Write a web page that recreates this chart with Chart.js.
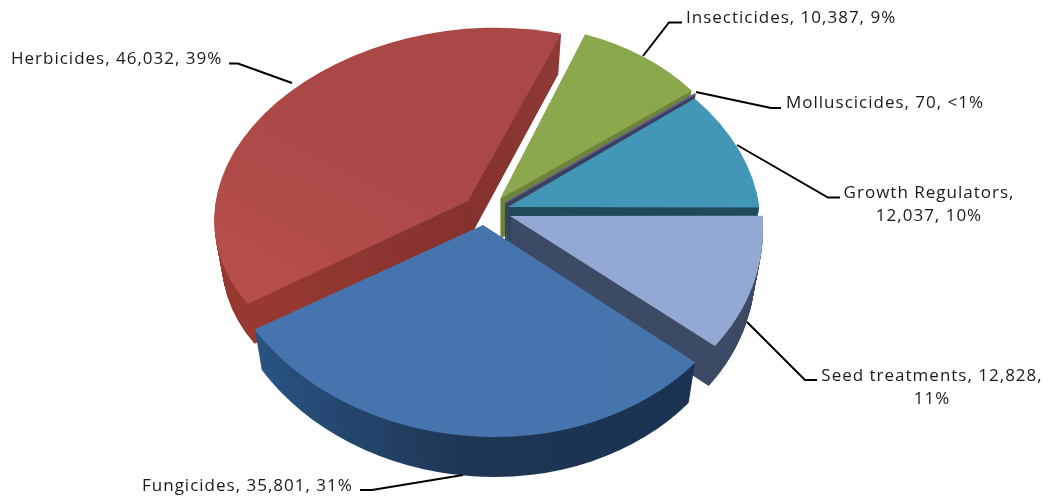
<!DOCTYPE html>
<html>
<head>
<meta charset="utf-8">
<style>
  html, body { margin: 0; padding: 0; background: #fff; }
  #chart { display: block; }
</style>
<script src="https://cdn.jsdelivr.net/npm/chart.js@4"></script>
</head>
<body>
<canvas id="chart" width="1060" height="501"></canvas>
<script>
// Data
const categories = ['Herbicides', 'Insecticides', 'Molluscicides', 'Growth Regulators', 'Seed treatments', 'Fungicides'];
const tonnes = [46032, 10387, 70, 12037, 12828, 35801];
const labelLines = [
  ['Herbicides, 46,032, 39%'],
  ['Insecticides, 10,387, 9%'],
  ['Molluscicides, 70, <1%'],
  ['Growth Regulators,', '12,037, 10%'],
  ['Seed treatments, 12,828,', '11%'],
  ['Fungicides, 35,801, 31%']
];

// Colours: top face and side wall, stops run along each slice's sweep
const faceColors = [
  ['#b94f4b', '#ab4846', '#a94846'],
  ['#8aa84c', '#8ba84c'],
  ['#6a5a94', '#6a5a94'],
  ['#4298b6', '#4096b4'],
  ['#93a9d3', '#93a9d3'],
  ['#4675ae', '#4674ae']
];
const wallColors = [
  ['#9a3a32', '#84322c', '#8f3a34'],
  ['#6d843b', '#6d843b'],
  ['#3a4060', '#3a4060'],
  ['#1f4a5c', '#1f4a5c'],
  ['#3d4a66', '#3d4a66'],
  ['#1a3353', '#1e3553', '#2b5a8c']
];
const borderWidths = [0, 0, 1.5, 0, 0, 0];

// 3D look: each slice gets its own tilt frame (apex, then the screen axes of its unit circle)
const sliceFrames = [
  { ox: 468, oy: 201, ux: -192, uy: -98, vx: 166, vy: -143 },
  { ox: 500, oy: 199, ux: 144, uy: -142, vx: 194, vy: 103 },
  { ox: 505, oy: 203, ux: 190, uy: -109, vx: 100, vy: 170 },
  { ox: 508, oy: 207, ux: 231, uy: -57, vx: 102, vy: 172 },
  { ox: 510, oy: 216, ux: 243, uy: 69, vx: -71, vy: 193 },
  { ox: 483, oy: 225, ux: -14, uy: 211, vx: -269, vy: -20 }
];
const DEPTH = 40;
const DEPTH_SHRINK = 0.03;

// Label placement: line anchors, alignment and leader line
const labelStyles = [
  { x: 11, y: 64, align: 'left', leader: [[229, 63.5], [238, 63.5], [292, 83]] },
  { x: 686, y: 23, align: 'left', leader: [[682, 22.5], [669, 22.5], [643, 56]] },
  { x: 786, y: 108, align: 'left', leader: [[781, 108], [771, 108], [696, 92]] },
  { x: 929, y: 198, align: 'center', leader: [[840, 197.5], [828, 197.5], [737, 145]] },
  { x: 932, y: 381, align: 'center', leader: [[817, 380], [805, 380], [747, 322]] },
  { x: 142, y: 491, align: 'left', leader: [[360, 490], [372, 490], [463, 475]] }
];
const LINE_HEIGHT = 23;

function sweepGradient(ctx, arc, colors) {
  const mid = (arc.startAngle + arc.endAngle) / 2;
  const r = arc.outerRadius;
  const g = ctx.createLinearGradient(
    arc.x + Math.sin(mid) * r, arc.y - Math.cos(mid) * r,
    arc.x - Math.sin(mid) * r, arc.y + Math.cos(mid) * r
  );
  colors.forEach((c, i) => g.addColorStop(i / (colors.length - 1), c));
  return g;
}

function drawSlice(ctx, arc, frame, shift, shrink, colors, borderColor) {
  const mid = (arc.startAngle + arc.endAngle) / 2;
  const cos = Math.cos(mid), sin = Math.sin(mid);
  const k = 1 / arc.outerRadius;
  // lower layers get narrower only, as the perspective pulls the wall inwards
  const kx = k * (1 - shrink);
  ctx.save();
  ctx.transform(
    (frame.ux * cos - frame.vx * sin) * kx,
    (frame.uy * cos - frame.vy * sin) * k,
    (frame.ux * sin + frame.vx * cos) * kx,
    (frame.uy * sin + frame.vy * cos) * k,
    frame.ox,
    frame.oy + shift
  );
  ctx.translate(-arc.x, -arc.y);
  const saved = arc.options;
  arc.options = Object.assign({}, saved, {
    backgroundColor: sweepGradient(ctx, arc, colors),
    borderColor: borderColor
  });
  arc.draw(ctx);
  arc.options = saved;
  ctx.restore();
}

const pie3dPlugin = {
  id: 'pie3d',
  beforeDatasetsDraw(chart) {
    const ctx = chart.ctx;
    const arcs = chart.getDatasetMeta(0).data;
    arcs.forEach((arc, i) => {
      for (let d = DEPTH; d >= 1; d--) {
        drawSlice(ctx, arc, sliceFrames[i], d, DEPTH_SHRINK * d / DEPTH, wallColors[i], wallColors[i][0]);
      }
      drawSlice(ctx, arc, sliceFrames[i], 0, 0, faceColors[i], faceColors[i][0]);
    });
    return false;
  },
  afterDraw(chart) {
    const ctx = chart.ctx;
    ctx.save();
    ctx.font = '17px "Open Sans"';
    ctx.letterSpacing = '1px';
    ctx.fillStyle = '#1a1a1a';
    ctx.strokeStyle = '#000';
    ctx.lineWidth = 2;
    labelStyles.forEach((style, i) => {
      ctx.textAlign = style.align;
      labelLines[i].forEach((line, n) => ctx.fillText(line, style.x, style.y + n * LINE_HEIGHT));
      ctx.beginPath();
      style.leader.forEach((p, n) => n ? ctx.lineTo(p[0], p[1]) : ctx.moveTo(p[0], p[1]));
      ctx.stroke();
    });
    ctx.restore();
  }
};

new Chart(document.getElementById('chart'), {
  type: 'pie',
  data: {
    labels: categories,
    datasets: [{
      data: tonnes,
      backgroundColor: faceColors.map(c => c[0]),
      borderWidth: borderWidths
    }]
  },
  options: {
    responsive: false,
    animation: false,
    events: [],
    plugins: { legend: { display: false }, tooltip: { enabled: false } }
  },
  plugins: [pie3dPlugin]
});
</script>
</body>
</html>
